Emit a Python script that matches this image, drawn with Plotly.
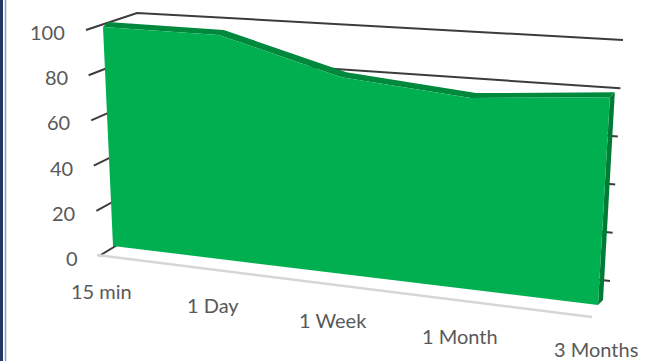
import plotly.graph_objects as go

# ---------------- data ----------------
categories = ["15 min", "1 Day", "1 Week", "1 Month", "3 Months"]
retention = [100, 98, 82, 76, 79]
value_ticks = [0, 20, 40, 60, 80, 100]
value_tick_labels = ["0", "20", "40", "60", "80", "100"]

# ---------------- projection (screen geometry of the 3-D box) ----------------
W, H = 658, 361
VMAX = 100.0
PERSP = 0.12  # perspective foreshortening along the category axis
FRONT = dict(lb=(113, 246), lt=(103, 27), rb=(598, 305), rt=(613, 42))   # series front plane
WALL = dict(lb=(147, 227), lt=(137, 13), rb=(610, 281), rt=(623, 40))    # back wall plane
DEPTH = (5, -5)  # series depth offset


def warp(t):
    return t * (1 - PERSP) / (1 - PERSP * t)


def plane(p, t, v):
    s = warp(t)
    u = v / VMAX
    lx = p["lb"][0] + (p["lt"][0] - p["lb"][0]) * u
    ly = p["lb"][1] + (p["lt"][1] - p["lb"][1]) * u
    rx = p["rb"][0] + (p["rt"][0] - p["rb"][0]) * u
    ry = p["rb"][1] + (p["rt"][1] - p["rb"][1]) * u
    return lx + (rx - lx) * s, ly + (ry - ly) * s


def shift(pt, d):
    return pt[0] + d[0], pt[1] + d[1]


def tick_outer(v):
    u = v / VMAX
    x, y = plane(FRONT, 0, v)
    return x - 14 - 3 * u, y + 10 - 7 * u


def floor_pt(t):
    s = warp(t)
    x, y = plane(FRONT, t, 0)
    return x - 16 + 10 * s, y + 9 + 3 * s


n = len(categories)
ts = [i / (n - 1) for i in range(n)]

fig = go.Figure()

# back wall gridlines + side wall edges / ticks
gx, gy = [], []
for v in value_ticks:
    a = plane(WALL, 0, v)
    b = plane(WALL, 1, v)
    o = tick_outer(v)
    gx += [o[0], a[0], b[0], None]
    gy += [o[1], a[1], b[1], None]
fig.add_trace(go.Scatter(x=gx, y=gy, mode="lines",
                         line=dict(color="#3c3c3c", width=2), hoverinfo="skip"))

# floor front edge
f0, f1 = floor_pt(0), floor_pt(1)
fig.add_trace(go.Scatter(x=[f0[0], f1[0]], y=[f0[1], f1[1]], mode="lines",
                         line=dict(color="#d6d6d6", width=2.5), hoverinfo="skip"))

# series faces
top_front = [plane(FRONT, t, v) for t, v in zip(ts, retention)]
top_back = [shift(p, DEPTH) for p in top_front]
top_face = top_front + top_back[::-1] + [top_front[0]]
fig.add_trace(go.Scatter(x=[p[0] for p in top_face], y=[p[1] for p in top_face],
                         mode="lines", fill="toself", fillcolor="#00893c",
                         line=dict(width=0, color="#00893c"), hoverinfo="skip"))

rb = plane(FRONT, 1, 0)
rt = top_front[-1]
right_face = [rb, rt, shift(rt, DEPTH), shift(rb, DEPTH), rb]
fig.add_trace(go.Scatter(x=[p[0] for p in right_face], y=[p[1] for p in right_face],
                         mode="lines", fill="toself", fillcolor="#007b35",
                         line=dict(width=0, color="#007b35"), hoverinfo="skip"))

front_face = [plane(FRONT, 0, 0)] + top_front + [rb, plane(FRONT, 0, 0)]
fig.add_trace(go.Scatter(x=[p[0] for p in front_face], y=[p[1] for p in front_face],
                         mode="lines", fill="toself", fillcolor="#00b050",
                         line=dict(width=0, color="#00b050"), hoverinfo="skip",
                         name="Retention"))

# labels
annotations = []
font = dict(family="Lato, 'Open Sans', sans-serif", size=20, color="#595959")
for v, lab in zip(value_ticks, value_tick_labels):
    o = tick_outer(v)
    annotations.append(dict(x=o[0] - 19, y=o[1] + 2, xref="x", yref="y", text=lab,
                            showarrow=False, xanchor="right", yanchor="middle", font=font))
for t, lab in zip(ts, categories):
    p = floor_pt(t)
    y = min(p[1] + 36, H - 12)
    annotations.append(dict(x=p[0] + 4, y=y, xref="x", yref="y", text=lab,
                            showarrow=False, xanchor="center", yanchor="middle", font=font))

fig.update_layout(
    width=W, height=H, autosize=False,
    margin=dict(l=0, r=0, t=0, b=0),
    paper_bgcolor="white", plot_bgcolor="white",
    showlegend=False,
    xaxis=dict(range=[0, W], visible=False, fixedrange=True),
    yaxis=dict(range=[H, 0], visible=False, fixedrange=True),
    annotations=annotations,
    shapes=[
        dict(type="rect", xref="paper", yref="paper", x0=0, x1=3 / W, y0=0, y1=1,
             fillcolor="#203864", line=dict(width=0), layer="above"),
        dict(type="line", xref="paper", yref="paper", x0=5.5 / W, x1=5.5 / W, y0=0, y1=1,
             line=dict(color="#8da0c4", width=1.5), layer="above"),
    ],
)

fig.write_html("out.html")
